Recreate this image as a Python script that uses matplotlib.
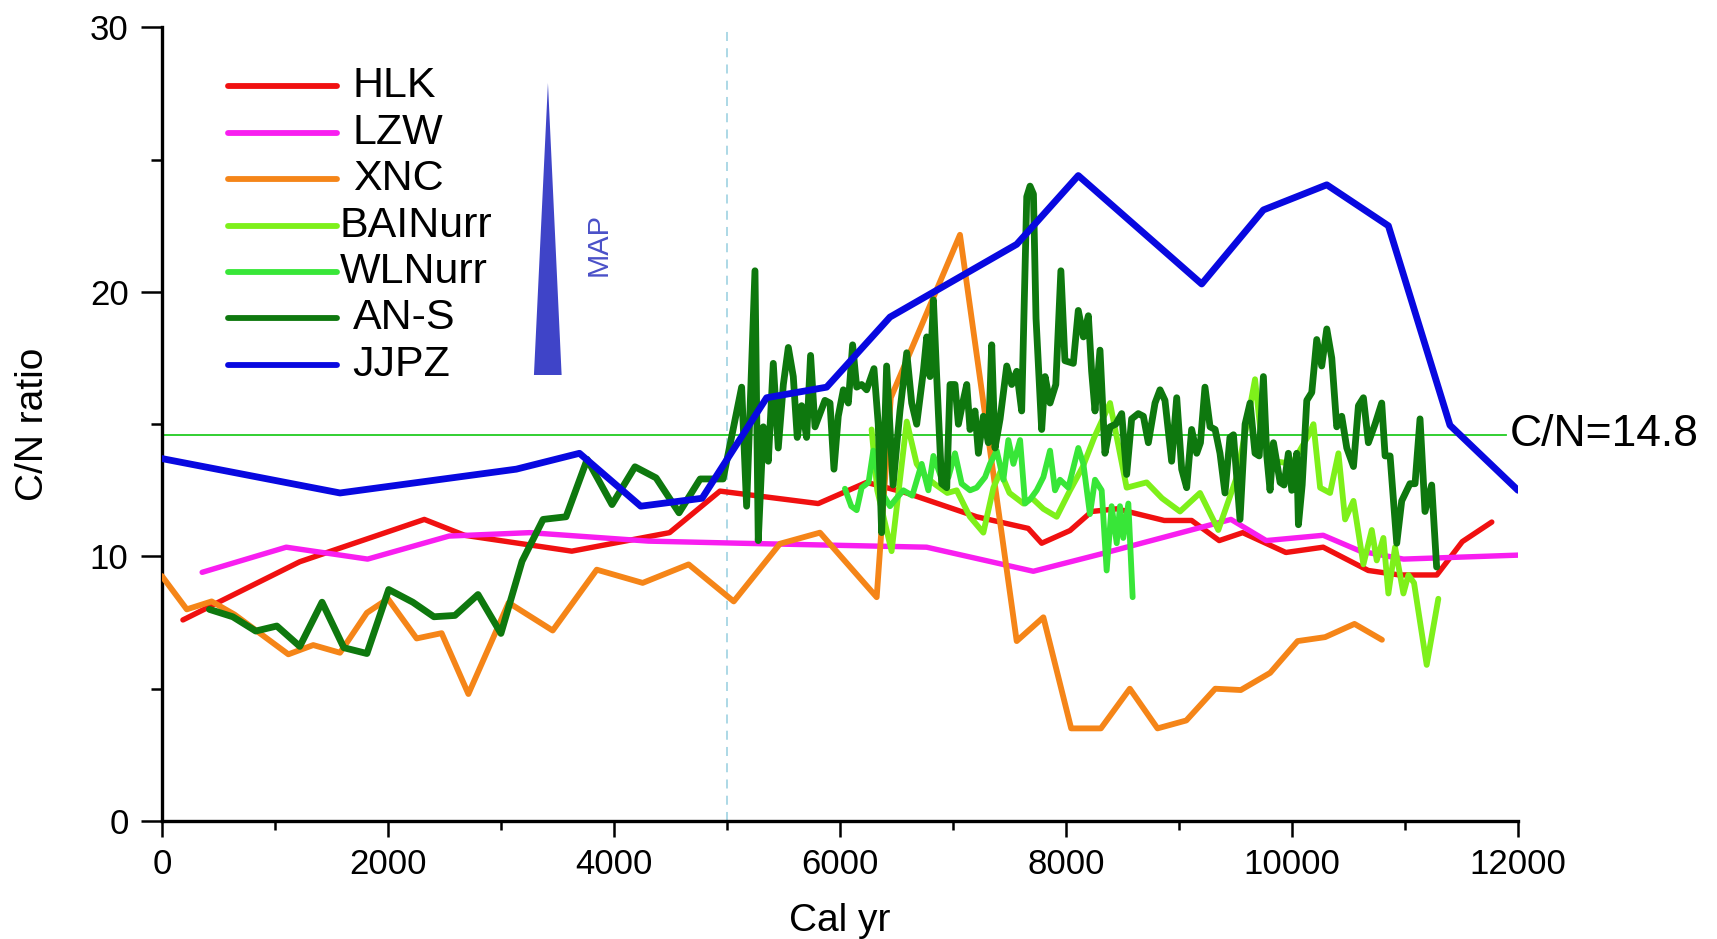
import matplotlib
matplotlib.use("Agg")
import matplotlib.pyplot as plt
from matplotlib.ticker import MultipleLocator

plt.rcParams['font.family'] = ['Liberation Sans', 'DejaVu Sans']

# ---------------- data ----------------
hlk_x = [186, 1220, 2322, 2678, 3627, 4492, 4938, 5808, 6236, 6590, 7210, 7666, 7785, 8036,
         8228, 8449, 8870, 9112, 9356, 9564, 9946, 10276, 10675, 10952, 11282, 11507, 11768]
hlk_y = [7.6, 9.8, 11.4, 10.8, 10.2, 10.9, 12.47, 12.0, 12.8, 12.4, 11.5, 11.06, 10.5, 10.98,
         11.7, 11.8, 11.36, 11.36, 10.6, 10.9, 10.15, 10.35, 9.47, 9.3, 9.3, 10.56, 11.3]

lzw_x = [356, 1100, 1820, 2540, 3254, 4305, 5112, 6767, 7711, 8315, 9460, 9772, 10276, 10605,
         10987, 12000]
lzw_y = [9.4, 10.35, 9.9, 10.77, 10.9, 10.58, 10.5, 10.35, 9.44, 10.1, 11.4, 10.6, 10.8, 10.2,
         9.9, 10.05]

xnc_x = [0, 220, 440, 644, 1119, 1339, 1576, 1814, 2000, 2254, 2475, 2712, 3068, 3458, 3848,
         4254, 4661, 5060, 5469, 5823, 6325, 6450, 7062, 7564, 7800, 8046, 8309, 8565, 8810,
         9065, 9321, 9547, 9807, 10050, 10293, 10553, 10796]
xnc_y = [9.26, 8.0, 8.3, 7.8, 6.3, 6.65, 6.36, 7.87, 8.4, 6.9, 7.1, 4.8, 8.25, 7.2, 9.5,
         9.0, 9.7, 8.3, 10.48, 10.9, 8.46, 16.0, 22.16, 6.8, 7.7, 3.5, 3.5, 5.0, 3.5,
         3.8, 5.0, 4.95, 5.6, 6.8, 6.95, 7.45, 6.85]

bai_x = [6280, 6330, 6457, 6520, 6591, 6679, 6760, 6850, 6950, 7033, 7150, 7269, 7358, 7420,
         7500, 7623, 7700, 7800, 7918, 8036, 8150, 8250, 8390, 8537, 8714, 8850, 9009, 9186,
         9348, 9511, 9600, 9673, 9720, 9850, 10000, 10150, 10190, 10249, 10337, 10411, 10470,
         10544, 10632, 10706, 10750, 10809, 10853, 10912, 10986, 11030, 11080, 11192, 11295]
bai_y = [14.8, 12.5, 10.2, 12.5, 15.1, 13.5, 13.0, 12.7, 12.4, 12.5, 11.5, 10.9, 12.6, 13.2,
         12.4, 12.0, 12.2, 11.8, 11.5, 12.5, 13.4, 14.5, 15.8, 12.6, 12.8, 12.2, 11.7, 12.4,
         11.0, 13.0, 15.0, 16.7, 14.8, 13.6, 13.5, 14.6, 15.0, 12.6, 12.4, 13.9, 11.4,
         12.1, 9.7, 11.0, 9.85, 10.7, 8.6, 10.35, 8.6, 9.3, 9.0, 5.9, 8.4]

wln_x = [6044, 6100, 6148, 6192, 6253, 6295, 6360, 6443, 6500, 6561, 6640, 6723, 6782, 6827,
         6870, 6915, 6960, 7018, 7077, 7151, 7210, 7284, 7328, 7387, 7446, 7490, 7535, 7594,
         7638, 7690, 7741, 7800, 7859, 7903, 7947, 8021, 8109, 8154, 8212, 8257, 8316, 8360,
         8404, 8449, 8478, 8507, 8552, 8590]
wln_y = [12.56, 11.9, 11.75, 12.6, 12.8, 14.0, 12.5, 11.9, 12.2, 12.5, 12.3, 13.5, 12.5, 13.8,
         13.3, 12.75, 13.0, 13.9, 12.75, 12.5, 12.6, 13.0, 13.5, 14.0, 12.9, 14.4, 13.5, 14.4,
         12.0, 12.2, 12.5, 13.0, 14.0, 12.5, 12.9, 12.6, 14.1, 13.5, 11.6, 12.9, 12.5, 9.47,
         11.9, 10.5, 11.9, 10.7, 12.0, 8.46]

ans_x = [420, 627, 830, 1017, 1220, 1417, 1610, 1814, 2007, 2220, 2407, 2593, 2797, 3000,
         3187, 3373, 3576, 3763, 3983, 4186, 4373, 4576, 4763, 4966, 5130, 5174, 5248, 5277,
         5322, 5366, 5410, 5454, 5499, 5543, 5587, 5622, 5661, 5705, 5740, 5779, 5823, 5867,
         5912, 5947, 5985, 6030, 6074, 6112, 6148, 6192, 6236, 6301, 6339, 6369, 6413, 6470,
         6531, 6591, 6635, 6679, 6738, 6768, 6797, 6827, 6856, 6900, 6945, 6974, 7018, 7048,
         7086, 7122, 7151, 7195, 7225, 7269, 7313, 7343, 7372, 7417, 7476, 7520, 7564, 7608,
         7653, 7682, 7712, 7735, 7785, 7815, 7859, 7910, 7955, 7991, 8065, 8109, 8154, 8198,
         8227, 8257, 8301, 8345, 8390, 8440, 8493, 8537, 8581, 8640, 8685, 8729, 8788, 8832,
         8876, 8935, 8980, 9024, 9068, 9112, 9157, 9190, 9230, 9275, 9320, 9363, 9407, 9451,
         9482, 9540, 9585, 9629, 9673, 9710, 9747, 9777, 9806, 9836, 9895, 9930, 9968, 9998,
         10042, 10057, 10090, 10131, 10175, 10219, 10263, 10308, 10352, 10396, 10440, 10485,
         10544, 10588, 10632, 10676, 10735, 10794, 10824, 10868, 10927, 10971, 11044, 11089,
         11133, 11177, 11236, 11280]
ans_y = [8.0, 7.72, 7.18, 7.37, 6.6, 8.27, 6.55, 6.33, 8.75, 8.27, 7.72, 7.77, 8.56, 7.09,
         9.82, 11.4, 11.5, 13.67, 11.96, 13.39, 12.97, 11.65, 12.93, 12.93, 16.4, 11.9, 20.8, 10.6,
         14.9, 13.6, 17.3, 14.1, 16.5, 17.9, 16.8, 14.5, 15.7, 14.5, 17.6, 14.9, 15.4, 15.9,
         15.8, 13.3, 15.3, 16.3, 15.8, 18.0, 16.4, 16.5, 16.3, 17.1, 15.0, 10.9, 17.2, 12.7,
         15.5, 17.7, 15.8, 15.0, 17.0, 18.3, 16.8, 19.7, 16.8, 12.75, 12.6, 16.5, 16.5, 15.0,
         15.8, 16.5, 14.8, 15.5, 13.9, 15.3, 14.3, 18.0, 14.1, 15.2, 17.2, 16.5, 17.0, 15.5,
         23.6, 24.0, 23.7, 19.0, 14.8, 16.8, 15.8, 16.5, 20.8, 17.4, 17.3, 19.3, 18.3, 19.1,
         17.0, 15.5, 17.8, 13.9, 14.9, 15.0, 15.4, 13.1, 15.2, 15.4, 15.3, 14.3, 15.8, 16.3,
         15.9, 13.6, 16.0, 13.3, 12.6, 14.8, 13.9, 14.3, 16.4, 14.9, 14.8, 13.9, 12.4, 14.5,
         14.6, 11.4, 15.0, 15.8, 13.9, 13.8, 16.8, 13.8, 12.5, 14.3, 12.8, 12.7, 13.9, 12.5,
         13.9, 11.2, 12.7, 15.9, 16.2, 18.2, 17.2, 18.6, 17.5, 14.9, 15.3, 14.1,
         13.4, 15.7, 16.0, 14.3, 15.0, 15.8, 13.8, 13.8, 10.5, 12.1, 12.75, 12.75,
         15.2, 11.7, 12.7, 9.6]

jjpz_x = [0, 1576, 3136, 3695, 4237, 4780, 5351, 5882, 6443, 7564, 8109, 9201, 9747, 10308,
          10853, 11398, 12000]
jjpz_y = [13.7, 12.4, 13.3, 13.9, 11.9, 12.2, 16.0, 16.4, 19.05, 21.8, 24.4, 20.3, 23.1, 24.05,
          22.5, 14.96, 12.5]

series_names = ['HLK', 'LZW', 'XNC', 'BAINurr', 'WLNurr', 'AN-S', 'JJPZ']
series_colors = ['#F01010', '#F81EF0', '#F58518', '#7EF01A', '#38E638', '#0E780E', '#0808E0']

cn_threshold = 14.6
cn_label = 'C/N=14.8'
boundary_year = 5000

map_tri_x = [3292, 3416, 3537]
map_tri_y = [16.86, 27.9, 16.86]

x_ticks = [0, 2000, 4000, 6000, 8000, 10000, 12000]
y_ticks = [0, 10, 20, 30]

# ---------------- figure ----------------
fig = plt.figure(figsize=(17.17, 9.39), dpi=100)
ax = fig.add_axes([0.0943, 0.1257, 0.7898, 0.8451])

ax.axvline(boundary_year, color='#A6D6E4', lw=1.3, ls=(0, (5, 4)), zorder=1)
ax.axhline(cn_threshold, xmin=0, xmax=11890 / 12000, color='#22CC22', lw=1.3, zorder=1)

data = [(hlk_x, hlk_y), (lzw_x, lzw_y), (xnc_x, xnc_y), (bai_x, bai_y),
        (wln_x, wln_y), (ans_x, ans_y), (jjpz_x, jjpz_y)]
widths = [3.9, 3.9, 4.2, 4.2, 4.2, 4.9, 4.9]
zorders = [3, 3, 3, 4, 5, 6, 7]
for (xs, ys), c, w, z in zip(data, series_colors, widths, zorders):
    ax.plot(xs, ys, color=c, lw=w, solid_joinstyle='round', solid_capstyle='round', zorder=z)

ax.set_xlim(0, 12000)
ax.set_ylim(0, 30)

# manual legend
leg_rows = [27.78, 26.01, 24.27, 22.5, 20.75, 19.0, 17.23]
for name, c, yy in zip(series_names, series_colors, leg_rows):
    ax.plot([582, 1551], [yy, yy], color=c, lw=4.2, solid_capstyle='round', zorder=8)
    tx = 1570 if name in ('BAINurr', 'WLNurr') else 1687
    ax.text(tx, yy, name, fontsize=31, va='center', ha='left', color='black', zorder=9)

ax.fill(map_tri_x, map_tri_y, color='#3F44C8', zorder=8, lw=0)
ax.text(3868, 21.8, 'MAP', rotation=90, fontsize=21, color='#4A50C8',
        ha='center', va='center')

ax.text(11930, cn_threshold, cn_label, fontsize=32, ha='left', va='center',
        clip_on=False)

for s in ['top', 'right']:
    ax.spines[s].set_visible(False)
for s in ['left', 'bottom']:
    ax.spines[s].set_linewidth(2.4)

ax.set_xticks(x_ticks)
ax.set_yticks(y_ticks)
ax.xaxis.set_minor_locator(MultipleLocator(1000))
ax.yaxis.set_minor_locator(MultipleLocator(5))
ax.tick_params(axis='x', which='major', direction='out', length=11.5, width=1.8,
               labelsize=25, pad=8)
ax.tick_params(axis='x', which='minor', direction='out', length=6.5, width=1.8)
ax.tick_params(axis='y', which='major', direction='out', length=15, width=1.8,
               labelsize=25, pad=9)
ax.tick_params(axis='y', which='minor', direction='out', length=8, width=1.8)

ax.set_xlabel('Cal yr', fontsize=28, labelpad=16)
ax.set_ylabel('C/N ratio', fontsize=28, labelpad=28)

fig.savefig('out.png', dpi=100)
